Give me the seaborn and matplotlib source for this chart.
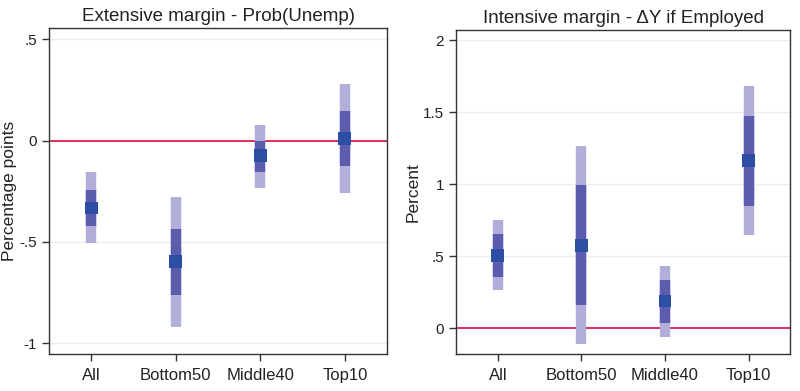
import numpy as np
import pandas as pd
import matplotlib
matplotlib.use("Agg")
import matplotlib.pyplot as plt
import seaborn as sns

sns.set_theme(style="white")
plt.rcParams['font.family'] = ['Liberation Sans', 'DejaVu Sans']

categories = ["All", "Bottom50", "Middle40", "Top10"]

# Extensive margin - Prob(Unemp)
ext_point = [-0.333, -0.597, -0.075, 0.012]
ext_ci90_lo = [-0.421, -0.761, -0.156, -0.123]
ext_ci90_hi = [-0.243, -0.437, 0.000, 0.147]
ext_ci95_lo = [-0.506, -0.918, -0.232, -0.257]
ext_ci95_hi = [-0.156, -0.276, 0.077, 0.280]

# Intensive margin - dY if employed
int_point = [0.502, 0.576, 0.188, 1.167]
int_ci90_lo = [0.356, 0.160, 0.037, 0.849]
int_ci90_hi = [0.651, 0.993, 0.333, 1.474]
int_ci95_lo = [0.264, -0.111, -0.060, 0.646]
int_ci95_hi = [0.750, 1.266, 0.430, 1.683]

light = "#b1aed9"
dark = "#5b5cad"
pt = "#2c4fa3"
zero_col = "#d81e4c"
grid_col = "#e6f0f2"

fig = plt.figure(figsize=(8.0, 3.91), dpi=100)
ax1 = fig.add_axes([0.061, 0.0946, 0.423, 0.834])
ax2 = fig.add_axes([0.570, 0.0946, 0.418, 0.828])

panels = [
    (ax1, "Extensive margin - Prob(Unemp)", "Percentage points",
     ext_point, ext_ci90_lo, ext_ci90_hi, ext_ci95_lo, ext_ci95_hi,
     [-1, -0.5, 0, 0.5], ["-1", "-.5", "0", ".5"], (-1.053, 0.556), -0.117),
    (ax2, "Intensive margin - \u0394Y if Employed", "Percent",
     int_point, int_ci90_lo, int_ci90_hi, int_ci95_lo, int_ci95_hi,
     [0, 0.5, 1, 1.5, 2], ["0", ".5", "1", "1.5", "2"], (-0.18, 2.069), -0.129),
]

for ax, title, ylab, p, l90, h90, l95, h95, yt, ytl, ylim, labx in panels:
    df = pd.DataFrame({"cat": categories, "point": p, "lo90": l90, "hi90": h90,
                       "lo95": l95, "hi95": h95})
    for y in yt:
        if y != 0:
            ax.axhline(y, color=grid_col, lw=1.0, zorder=0)
    ax.axhline(0, color=zero_col, lw=1.3, zorder=1)
    xs = np.arange(len(df))
    ax.vlines(xs, df["lo95"], df["hi95"], color=light, lw=7.5, zorder=2)
    ax.vlines(xs, df["lo90"], df["hi90"], color=dark, lw=7.5, zorder=3)
    sns.scatterplot(data=df, x="cat", y="point", ax=ax, marker="s", s=85,
                    color=pt, edgecolor="none", zorder=4)
    ax.set_xlim(-0.5, 3.5)
    ax.set_ylim(*ylim)
    ax.set_yticks(yt)
    ax.set_yticklabels(ytl)
    ax.set_xlabel("")
    ax.set_ylabel(ylab, fontsize=12.5, color="#222222", va="center")
    ax.yaxis.set_label_coords(labx, 0.5)
    ax.set_title(title, fontsize=13.5, color="#222222", pad=5)
    ax.tick_params(axis="both", which="both", direction="out", length=5,
                   width=1, color="#333333", labelsize=11, labelcolor="#222222",
                   left=True, bottom=True)
    ax.tick_params(axis="x", labelsize=12, pad=5)
    for s in ax.spines.values():
        s.set_color("#333333")
        s.set_linewidth(1.0)

fig.patch.set_facecolor("white")
fig.savefig("out.png", dpi=100, facecolor="white")
